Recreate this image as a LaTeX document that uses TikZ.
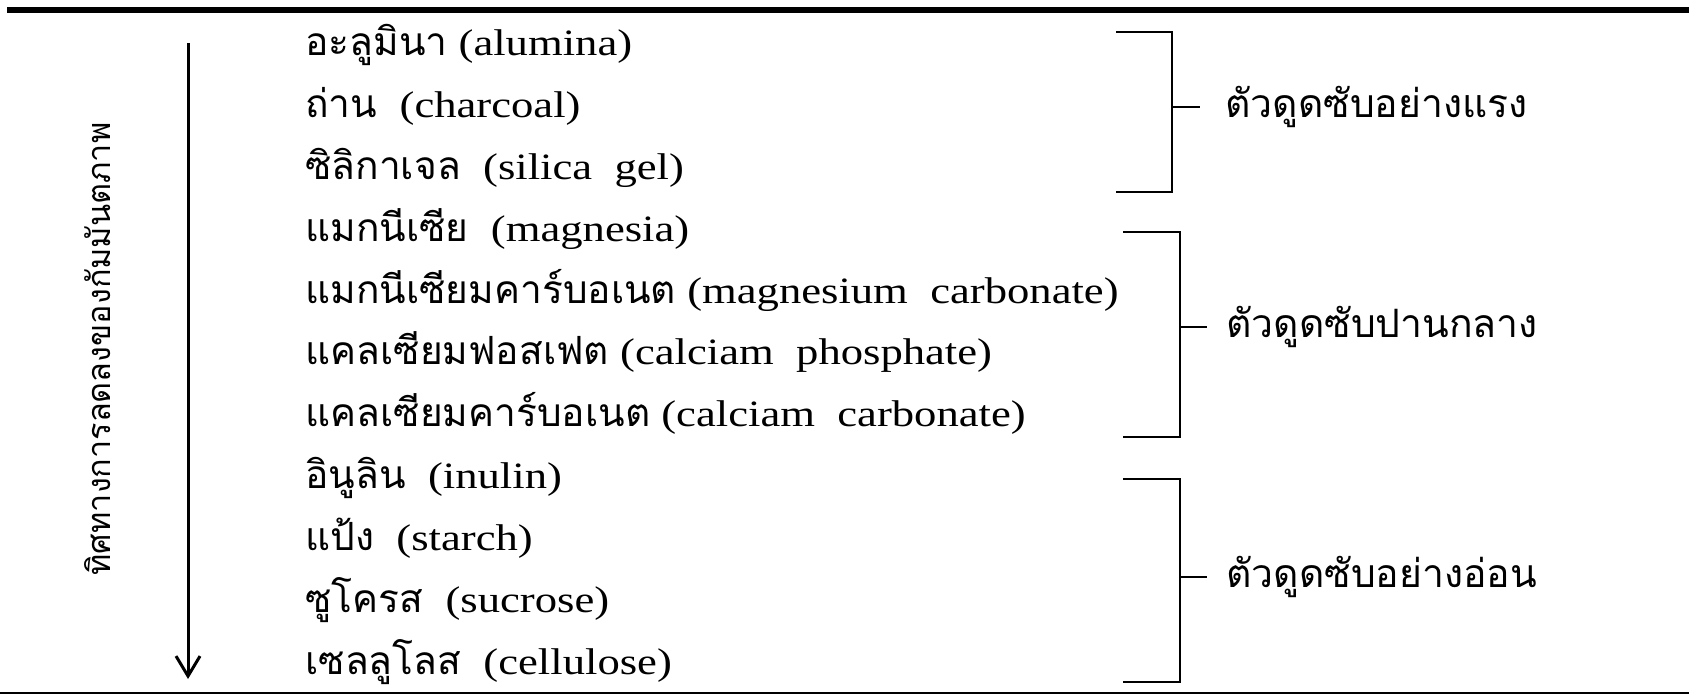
\documentclass[tikz,border=0pt]{standalone}
\usepackage{fontspec}
\setmainfont{Liberation Serif}[FakeStretch=1.2]
\newfontfamily\thaifont[Script=Thai,Scale=1.045]{Loma}
\usetikzlibrary{arrows.meta,positioning}
\newcommand{\thtxt}[1]{{\thaifont #1}}
\tikzset{
  item/.style={anchor=base west, inner sep=0pt, font=\fontsize{18.6}{20}\selectfont},
  grouplabel/.style={anchor=west, inner xsep=12.5pt, inner ysep=0pt, text height=10.5pt, text depth=0pt,
    font=\thaifont\fontsize{18.7}{22}\selectfont},
  sidelabel/.style={rotate=90, inner sep=0pt, text height=8.5pt, text depth=0pt,
    font=\thaifont\fontsize{15.5}{20}\selectfont},
  bracket/.style={line width=1.3pt},
  arrow/.style={-{Straight Barb[length=10pt,width=12pt]}, line width=1.5pt},
  toprule/.style={line width=3pt},
  bottomrule/.style={line width=1.2pt}
}
\begin{document}
\begin{tikzpicture}[x=0.5pt, y=0.5pt]
  \useasboundingbox (0,0) rectangle (1689,695);
  \draw[toprule] (7,685) -- (1689,685);
  \draw[bottomrule] (0,2) -- (1689,2);

  % direction arrow
  \coordinate (atop) at (188,652);
  \coordinate (abot) at (188,16);
  \draw[arrow] (atop) -- (abot);
  \node[sidelabel] (dir) at (102,346) {ทิศทางการลดลงของกัมมันตภาพ};

  % adsorbents
  \node[item] (m1) at (305,639) {\thtxt{อะลูมินา} (alumina)};
  \node[below=30.9pt of m1.base west, item] (m2) {\thtxt{ถ่าน}~ (charcoal)};
  \node[below=30.9pt of m2.base west, item] (m3) {\thtxt{ซิลิกาเจล}~ (silica~ gel)};
  \node[below=30.9pt of m3.base west, item] (m4) {\thtxt{แมกนีเซีย}~ (magnesia)};
  \node[below=30.9pt of m4.base west, item] (m5) {\thtxt{แมกนีเซียมคาร์บอเนต} (magnesium~ carbonate)};
  \node[below=30.9pt of m5.base west, item] (m6) {\thtxt{แคลเซียมฟอสเฟต} (calciam~ phosphate)};
  \node[below=30.9pt of m6.base west, item] (m7) {\thtxt{แคลเซียมคาร์บอเนต} (calciam~ carbonate)};
  \node[below=30.9pt of m7.base west, item] (m8) {\thtxt{อินูลิน}~ (inulin)};
  \node[below=30.9pt of m8.base west, item] (m9) {\thtxt{แป้ง}~ (starch)};
  \node[below=30.9pt of m9.base west, item] (m10) {\thtxt{ซูโครส}~ (sucrose)};
  \node[below=30.9pt of m10.base west, item] (m11) {\thtxt{เซลลูโลส}~ (cellulose)};

  % groups
  \coordinate (b1a) at (1116,663);
  \coordinate (b1m) at (1172,588);
  \coordinate (b1b) at (1116,503);
  \draw[bracket] (b1a) -| (b1m) |- (b1b);
  \node[grouplabel, right=14pt of b1m] (g1) {ตัวดูดซับอย่างแรง};
  \draw[bracket] (b1m) -- (g1);

  \coordinate (b2a) at (1123,463);
  \coordinate (b2m) at (1180,368);
  \coordinate (b2b) at (1123,258);
  \draw[bracket] (b2a) -| (b2m) |- (b2b);
  \node[grouplabel, inner xsep=9.5pt, right=13.5pt of b2m] (g2) {ตัวดูดซับปานกลาง};
  \draw[bracket] (b2m) -- (g2);

  \coordinate (b3a) at (1123,216);
  \coordinate (b3m) at (1180,118);
  \coordinate (b3b) at (1123,13);
  \draw[bracket] (b3a) -| (b3m) |- (b3b);
  \node[grouplabel, inner xsep=9.5pt, right=13.5pt of b3m] (g3) {ตัวดูดซับอย่างอ่อน};
  \draw[bracket] (b3m) -- (g3);
\end{tikzpicture}
\end{document}
